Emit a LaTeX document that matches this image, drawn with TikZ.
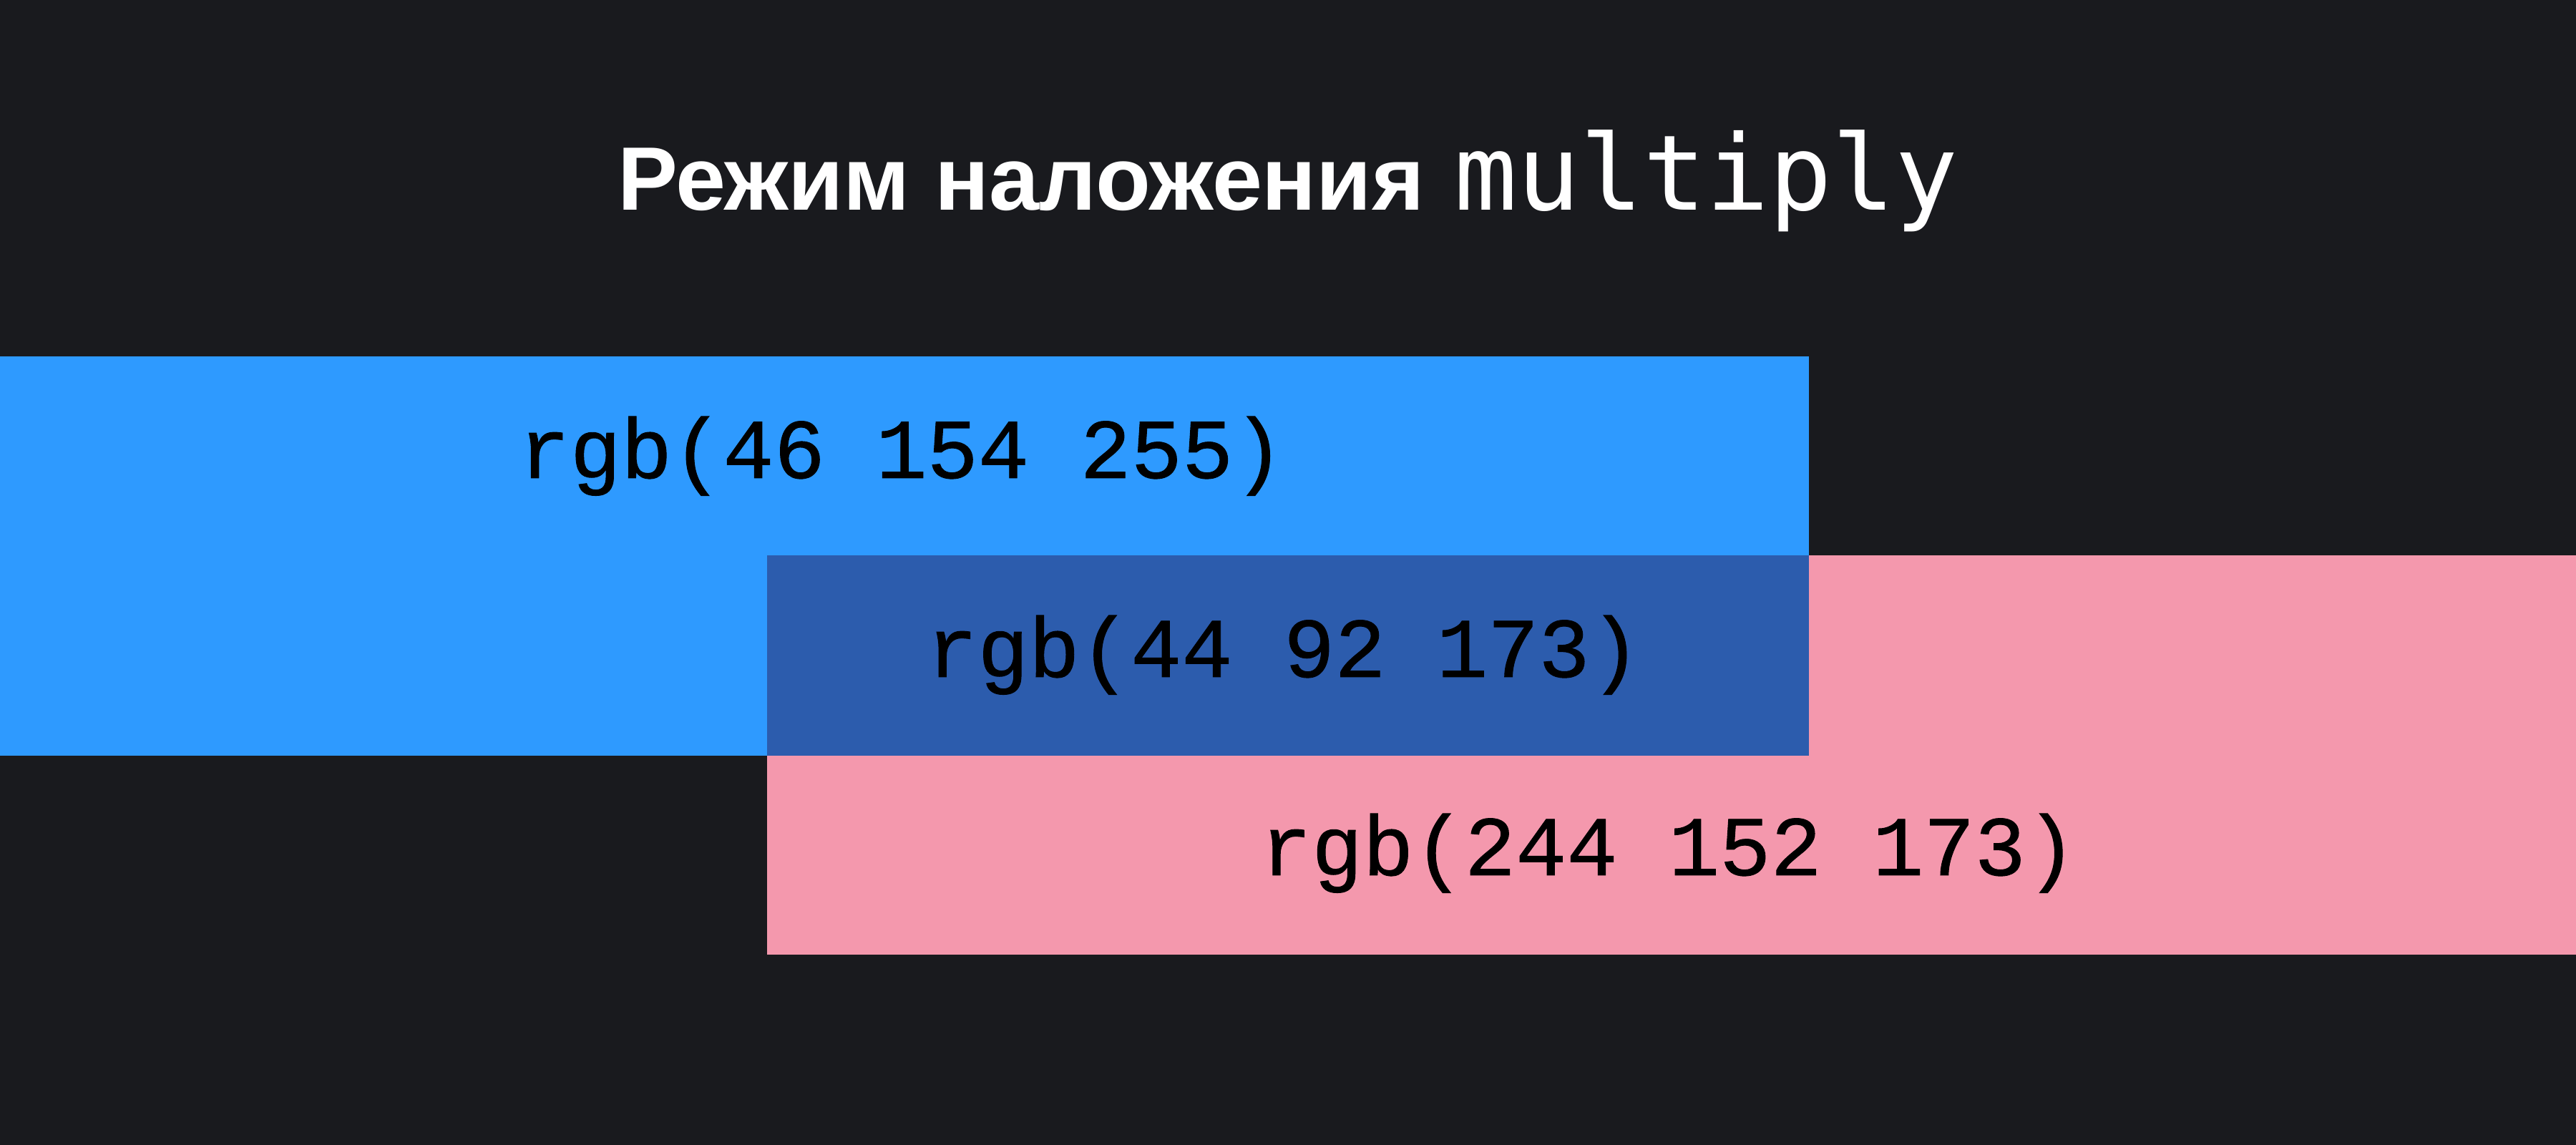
\documentclass[tikz,border=0pt]{standalone}
\usepackage{fontspec}
\usepackage{xcolor}
\setmainfont{Liberation Sans}
\newfontfamily\titlefont{Liberation Sans}
\newfontfamily\codefont{DejaVu Sans Mono}
\newfontfamily\rgbfont[FakeBold=0.8]{Liberation Mono}
\definecolor{bgdark}{RGB}{25,26,30}
\definecolor{skyblue}{RGB}{46,154,255}
\definecolor{mixblue}{RGB}{44,92,173}
\definecolor{rosepink}{RGB}{244,152,173}
\tikzset{heading/.style={text=white,anchor=base,inner sep=0pt},
 rgblabel/.style={text=black,anchor=base,inner sep=0pt,
 font=\rgbfont\fontsize{33.8pt}{40pt}\selectfont},
 }

\begin{document}
\begin{tikzpicture}
        \fill[bgdark] (0,0) rectangle (36,16);
        \useasboundingbox (0,0) rectangle (36,16);
        \fill[skyblue] (0,11.02) rectangle (25.28,5.44);
        \fill[rosepink] (10.72,8.24) rectangle (36,2.66);
        \fill[mixblue] (10.72,8.24) rectangle (25.28,5.44);
        \node[heading] (title) at (18,13.06) {{\titlefont\bfseries\fontsize{35.8pt}{42pt}\selectfont Режим наложения}\hspace{0.42cm}{\codefont\fontsize{41.6pt}{48pt}\selectfont multiply}};
        \node[rgblabel] (bluelbl) at (12.6,9.32) {rgb(46 154 255)};
        \node[rgblabel] (mixlbl) at (17.94,6.54) {rgb(44 92 173)};
        \node[rgblabel] (pinklbl) at (23.32,3.77) {rgb(244 152 173)};
    \end{tikzpicture}
\end{document}
